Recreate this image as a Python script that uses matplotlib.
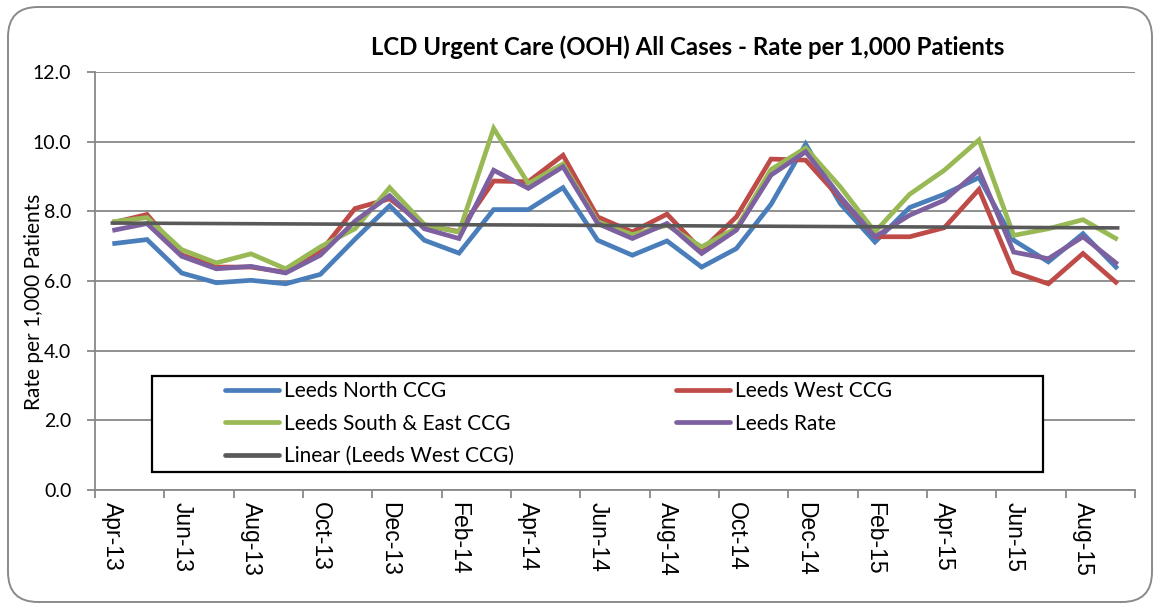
import numpy as np
import matplotlib
matplotlib.use("Agg")
import matplotlib.pyplot as plt
from matplotlib.patches import Rectangle, FancyBboxPatch

months = ["Apr-13", "May-13", "Jun-13", "Jul-13", "Aug-13", "Sep-13", "Oct-13", "Nov-13",
          "Dec-13", "Jan-14", "Feb-14", "Mar-14", "Apr-14", "May-14", "Jun-14", "Jul-14",
          "Aug-14", "Sep-14", "Oct-14", "Nov-14", "Dec-14", "Jan-15", "Feb-15", "Mar-15",
          "Apr-15", "May-15", "Jun-15", "Jul-15", "Aug-15", "Sep-15"]

leeds_north = [7.07, 7.19, 6.23, 5.95, 6.02, 5.92, 6.19, 7.20, 8.16, 7.17,
               6.80, 8.05, 8.05, 8.68, 7.17, 6.74, 7.15, 6.40, 6.93, 8.20,
               9.93, 8.22, 7.12, 8.11, 8.49, 8.97, 7.17, 6.55, 7.36, 6.35]
leeds_west = [7.67, 7.91, 6.75, 6.40, 6.40, 6.25, 6.83, 8.08, 8.36, 7.60,
              7.42, 8.87, 8.85, 9.61, 7.84, 7.41, 7.92, 6.88, 7.84, 9.50,
              9.47, 8.37, 7.27, 7.27, 7.53, 8.63, 6.26, 5.92, 6.79, 5.92]
leeds_se = [7.70, 7.82, 6.90, 6.52, 6.78, 6.35, 6.98, 7.50, 8.68, 7.62,
            7.40, 10.38, 8.80, 9.36, 7.70, 7.33, 7.60, 6.98, 7.52, 9.20,
            9.82, 8.70, 7.41, 8.49, 9.18, 10.05, 7.31, 7.50, 7.76, 7.19]
leeds_rate = [7.45, 7.65, 6.71, 6.35, 6.42, 6.23, 6.74, 7.72, 8.45, 7.50,
              7.22, 9.18, 8.66, 9.28, 7.65, 7.22, 7.65, 6.79, 7.46, 9.04,
              9.71, 8.42, 7.27, 7.89, 8.32, 9.18, 6.83, 6.64, 7.27, 6.48]

series_names = ["Leeds North CCG", "Leeds West CCG", "Leeds South & East CCG", "Leeds Rate"]
trend_name = "Linear (Leeds West CCG)"
title = "LCD Urgent Care (OOH) All Cases - Rate per 1,000 Patients"
ylabel = "Rate per 1,000 Patients"
yticks = [0, 2, 4, 6, 8, 10, 12]

colors = ["#4A7EBB", "#BE4B48", "#98B954", "#7D60A0"]
trend_color = "#595959"
grid_color = "#888888"
UI = "Lato"

W, H = 1155, 606
fig = plt.figure(figsize=(W / 100, H / 100), dpi=100)
fig.patch.set_facecolor("white")

def px(x0, y0, x1, y1):
    return [x0 / W, 1 - y1 / H, (x1 - x0) / W, (y1 - y0) / H]

ax = fig.add_axes(px(95, 72, 1135, 490))
x = np.arange(len(months))

handles = []
for vals, name, c in zip([leeds_north, leeds_west, leeds_se, leeds_rate], series_names, colors):
    h, = ax.plot(x, vals, color=c, lw=3.4, solid_joinstyle="miter", solid_capstyle="butt",
                 label=name, zorder=3)
    handles.append(h)

coef = np.polyfit(x, leeds_west, 1)
th, = ax.plot(x, np.polyval(coef, x), color=trend_color, lw=2.6, label=trend_name, zorder=4)

ax.set_xlim(-0.5, len(months) - 0.5)
ax.set_ylim(0, 12)
ax.set_yticks(yticks)
ax.set_yticklabels([f"{v:.1f}" for v in yticks], fontfamily=UI, fontsize=14)
ax.yaxis.grid(True, color=grid_color, lw=1.3)
ax.set_axisbelow(True)
for s in ["top", "right"]:
    ax.spines[s].set_visible(False)
for s in ["left", "bottom"]:
    ax.spines[s].set_color(grid_color)
    ax.spines[s].set_linewidth(1.3)
ax.tick_params(axis="y", direction="out", length=6, width=1.3, color=grid_color, pad=11)

ax.set_xticks(np.arange(-0.5, len(months), 2))
ax.set_xticklabels([])
ax.tick_params(axis="x", which="major", direction="out", length=6, width=1.3, color=grid_color)
ax.set_xticks(x[::2], minor=True)
ax.set_xticklabels(months[::2], minor=True, rotation=-90, fontfamily="Liberation Sans",
                   fontsize=16.5, va="top", ha="center")
ax.tick_params(axis="x", which="minor", length=0, pad=9)

fig.text(688 / W, 1 - 47 / H, title, ha="center", va="center", fontfamily=UI,
         fontweight="bold", fontsize=17.3)
fig.text(34 / W, 1 - 302 / H, ylabel, ha="center", va="center", rotation=90,
         fontfamily=UI, fontsize=15)

# legend box
fig.patches.append(Rectangle((152 / W, 1 - 472 / H), (1043 - 152) / W, (472 - 376) / H,
                             transform=fig.transFigure, facecolor="white",
                             edgecolor="black", lw=1.6, zorder=2))
order = [handles[0], handles[2], th, handles[1], handles[3]]
leg = fig.legend(order, [h.get_label() for h in order], ncol=2, frameon=False,
                 loc="upper left", bbox_to_anchor=(225 / W, 1 - 381 / H),
                 borderpad=0, borderaxespad=0, prop={"family": UI, "size": 15},
                 handlelength=2.6, handletextpad=0.25, columnspacing=7.75, labelspacing=0.6)
for lh in leg.get_lines():
    lh.set_linewidth(3.4)
    lh.set_solid_capstyle("round")
leg.set_zorder(6)

# outer rounded frame (inches)
fig.patches.append(FancyBboxPatch((8 / 100, (H - 602) / 100), (1152 - 8) / 100, (602 - 7) / 100,
                                  boxstyle="round,pad=0,rounding_size=0.3",
                                  transform=fig.dpi_scale_trans, facecolor="none",
                                  edgecolor="#8a8a8a", lw=1.4, zorder=1))

fig.savefig("out.png", dpi=100, facecolor="white")
